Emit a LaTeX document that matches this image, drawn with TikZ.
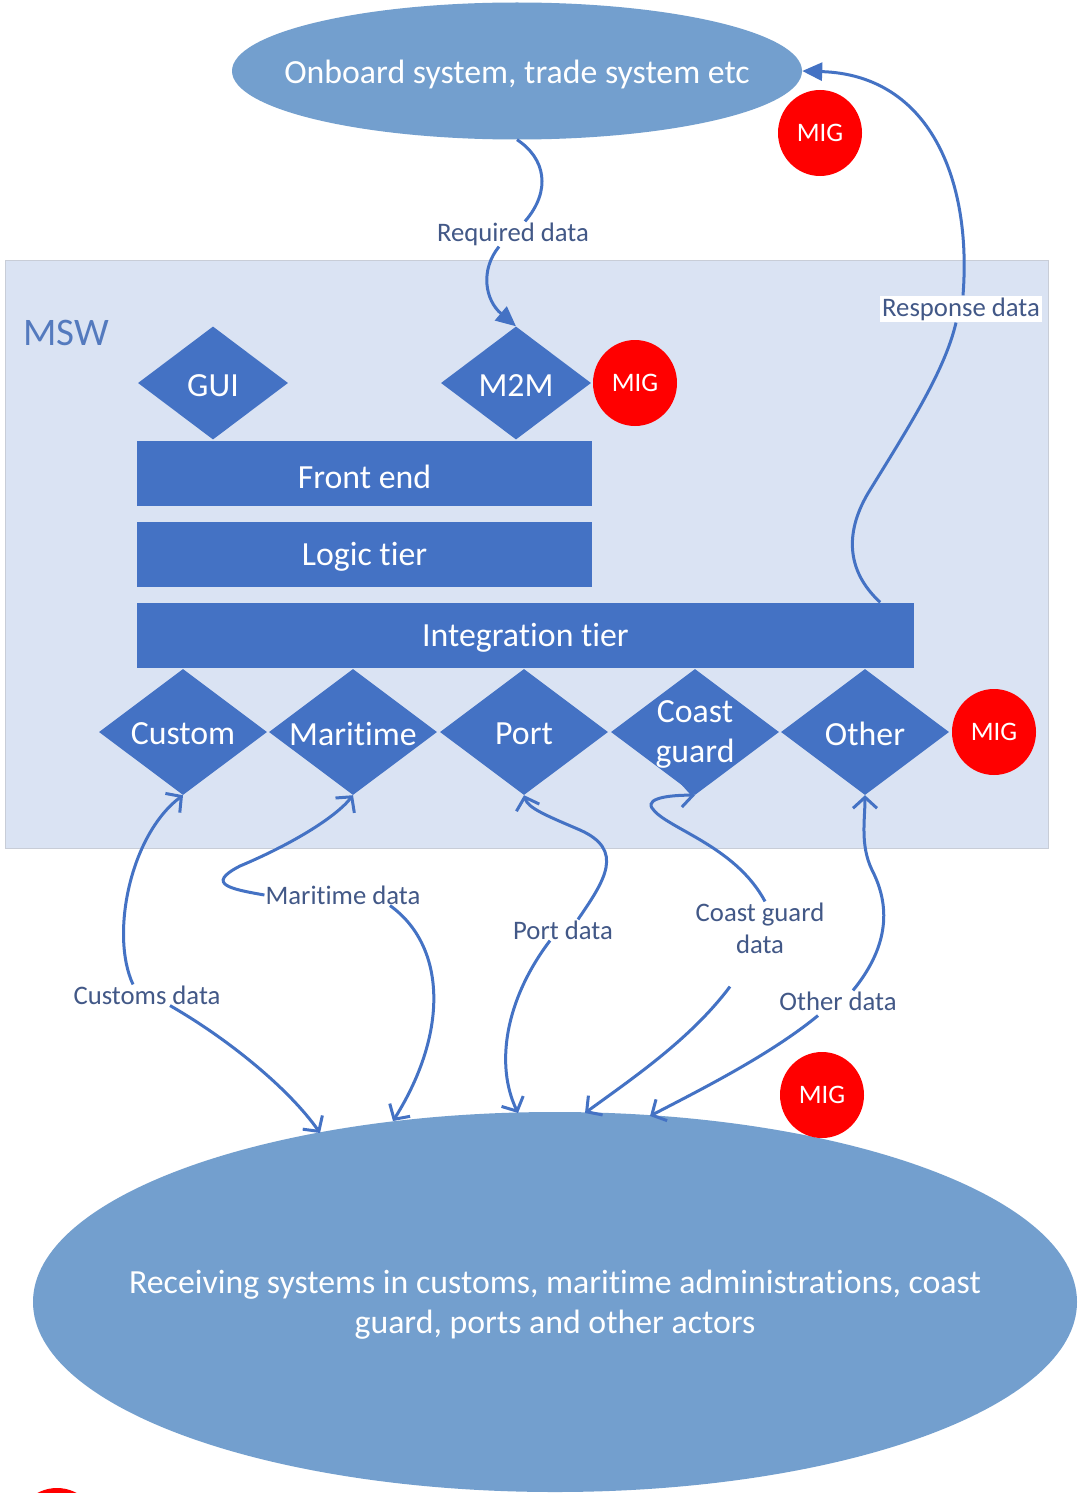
\documentclass[tikz,border=0pt]{standalone}
\usepackage{fontspec}
\setmainfont{Carlito}[Ligatures=NoCommon]
\usetikzlibrary{shapes.geometric,arrows.meta,calc}
\definecolor{boxblue}{RGB}{68,114,196}
\definecolor{ellblue}{RGB}{115,159,206}
\definecolor{mswbg}{RGB}{218,227,243}
\definecolor{mswline}{RGB}{200,205,215}
\definecolor{lbltxt}{RGB}{66,88,135}
\definecolor{mswtxt}{RGB}{84,122,190}
\definecolor{migred}{RGB}{255,0,0}
\newcommand{\bigfont}{\fontsize{33.8pt}{40pt}\selectfont}
\newcommand{\lblfont}{\fontsize{26.7pt}{32pt}\selectfont}
\begin{document}
\begin{tikzpicture}[x=1pt,y=-1pt,
  dtext/.style={text=white, font=\bigfont, align=center, inner sep=0pt, yshift=-3pt},
  dia/.style={diamond, fill=boxblue, minimum width=168pt, minimum height=126pt, inner sep=0pt, label={[dtext,yshift=1pt]center:{#1}}},
  sdia/.style={diamond, fill=boxblue, minimum width=150pt, minimum height=113pt, inner sep=0pt, label={[dtext]center:{#1}}},
  bar/.style={rectangle, fill=boxblue, minimum height=65pt, inner sep=0pt, label={[dtext]center:{#1}}},
  ell/.style={ellipse, fill=ellblue, inner sep=0pt, label={[dtext]center:{#1}}},
  mig/.style={ellipse, fill=migred, text=white, minimum width=84pt, minimum height=86pt, inner sep=0pt, font=\lblfont},
  lbl/.style={text=lbltxt, font=\lblfont, inner sep=1pt, align=center, yshift=-3pt},
  conn/.style={draw=boxblue, line width=3pt},
  farrow/.style={conn, -{Triangle[length=20pt,width=18pt]}},
  oarrow/.style={conn, -{Straight Barb[length=11pt,width=24pt]}},
]
\useasboundingbox (0,0) rectangle (1077,1493);
\fill[white] (0,0) rectangle (1077,1493);

% MSW frame
\node[draw=mswline, line width=0.8pt, fill=mswbg, minimum width=1043pt, minimum height=588pt, anchor=north west, inner sep=0pt] (msw) at (5,260) {};
\node[text=mswtxt, font=\fontsize{39pt}{44pt}\selectfont, inner sep=0pt] (mswl) at (66,333) {MSW};

% ellipses
\node[ell={Onboard system, trade system etc}, minimum width=570pt, minimum height=137pt] (top) at (517,71) {};
\node[ell={Receiving systems in customs, maritime administrations, coast\\guard, ports and other actors}, minimum width=1044pt, minimum height=380pt] (bot) at (555,1302) {};

% upper diamonds
\node[sdia={GUI}] (gui) at (213,383) {};
\node[sdia={M2M}] (m2m) at (516,383) {};

% tiers
\node[bar={Front end}, minimum width=455pt] (front) at (364.5,473.5) {};
\node[bar={Logic tier}, minimum width=455pt] (logic) at (364.5,554) {};
\node[bar={Integration tier}, minimum width=777pt] (int) at (525.5,635) {};

% lower diamonds
\node[dia={Custom}] (custom) at (183,732) {};
\node[dia={Maritime}] (maritime) at (353,732) {};
\node[dia={Port}] (port) at (524,732) {};
\node[dia={Coast\\guard}] (coast) at (695,732) {};
\node[dia={Other}] (other) at (865,732) {};

% MIG circles
\node[mig] (mig1) at (820,133) {MIG};
\node[mig] (mig2) at (635,383) {MIG};
\node[mig] (mig3) at (994,732) {MIG};
\node[mig] (mig4) at (822,1095) {MIG};
\node[mig] (mig5) at (57,1531) {};

% labels
\node[lbl] (lreq) at (513,231) {Required data};
\node[lbl, fill=white, inner sep=2pt] (lresp) at (961,306) {Response data};
\node[lbl] (lc) at (147,992) {Customs data};
\node[lbl] (lm) at (343,892) {Maritime data};
\node[lbl] (lp) at (563,927) {Port data};
\node[lbl] (lcg) at (760,925) {Coast guard\\data};
\node[lbl] (lo) at (838,998) {Other data};

% ellipse end points
\coordinate (e1) at (320,1133);
\coordinate (e2) at (393,1121);
\coordinate (e3) at (518,1113);
\coordinate (e4) at (585,1113);
\coordinate (e5) at (650,1116);

% required data
\draw[conn] (top.south) .. controls (545,158) and (552,190) .. ($(lreq.north)+(12,0)$);
\draw[farrow] ($(lreq.south)+(-14,0)$) .. controls (480,270) and (485,300) .. (m2m.north);

% response data
\draw[conn] ($(int.north east)+(-34,0)$) .. controls (845,570) and (845,530) .. (870,490) .. controls (910,425) and (945,370) .. ($(lresp.south)+(-5,0)$);
\draw[farrow] ($(lresp.north)+(2,0)$) .. controls (972,180) and (930,75) .. (top.east);

% customs
\draw[oarrow] ($(lc.north)+(-14,0)$) .. controls (110,935) and (130,835) .. (custom.south);
\draw[oarrow] ($(lc.south)+(23,0)$) .. controls (230,1040) and (290,1090) .. (e1);

% maritime
\draw[oarrow] (lm.west) .. controls (230,889) and (205,884) .. (240,866) .. controls (290,845) and (335,818) .. (maritime.south);
\draw[oarrow] ($(lm.south)+(47,0)$) .. controls (445,945) and (450,1030) .. (e2);

% port
\draw[oarrow] ($(lp.north)+(15,0)$) .. controls (605,880) and (625,850) .. (580,830) .. controls (545,815) and (528,808) .. (port.south);
\draw[oarrow] ($(lp.south)+(-13,0)$) .. controls (505,1000) and (495,1065) .. (e3);

% coast guard
\draw[oarrow] ($(lcg.north)+(5,0)$) .. controls (735,845) and (665,828) .. (652,808) .. controls (645,797) and (675,795) .. (coast.south);
\draw[oarrow] ($(lcg.south)+(-30,32)$) .. controls (690,1040) and (630,1080) .. (e4);

% other
\draw[oarrow] ($(lo.north)+(15,0)$) .. controls (890,945) and (890,905) .. (872,870) .. controls (860,845) and (865,820) .. (other.south);
\draw[oarrow] ($(lo.south)+(-20,4)$) .. controls (770,1055) and (700,1090) .. (e5);
\end{tikzpicture}
\end{document}
